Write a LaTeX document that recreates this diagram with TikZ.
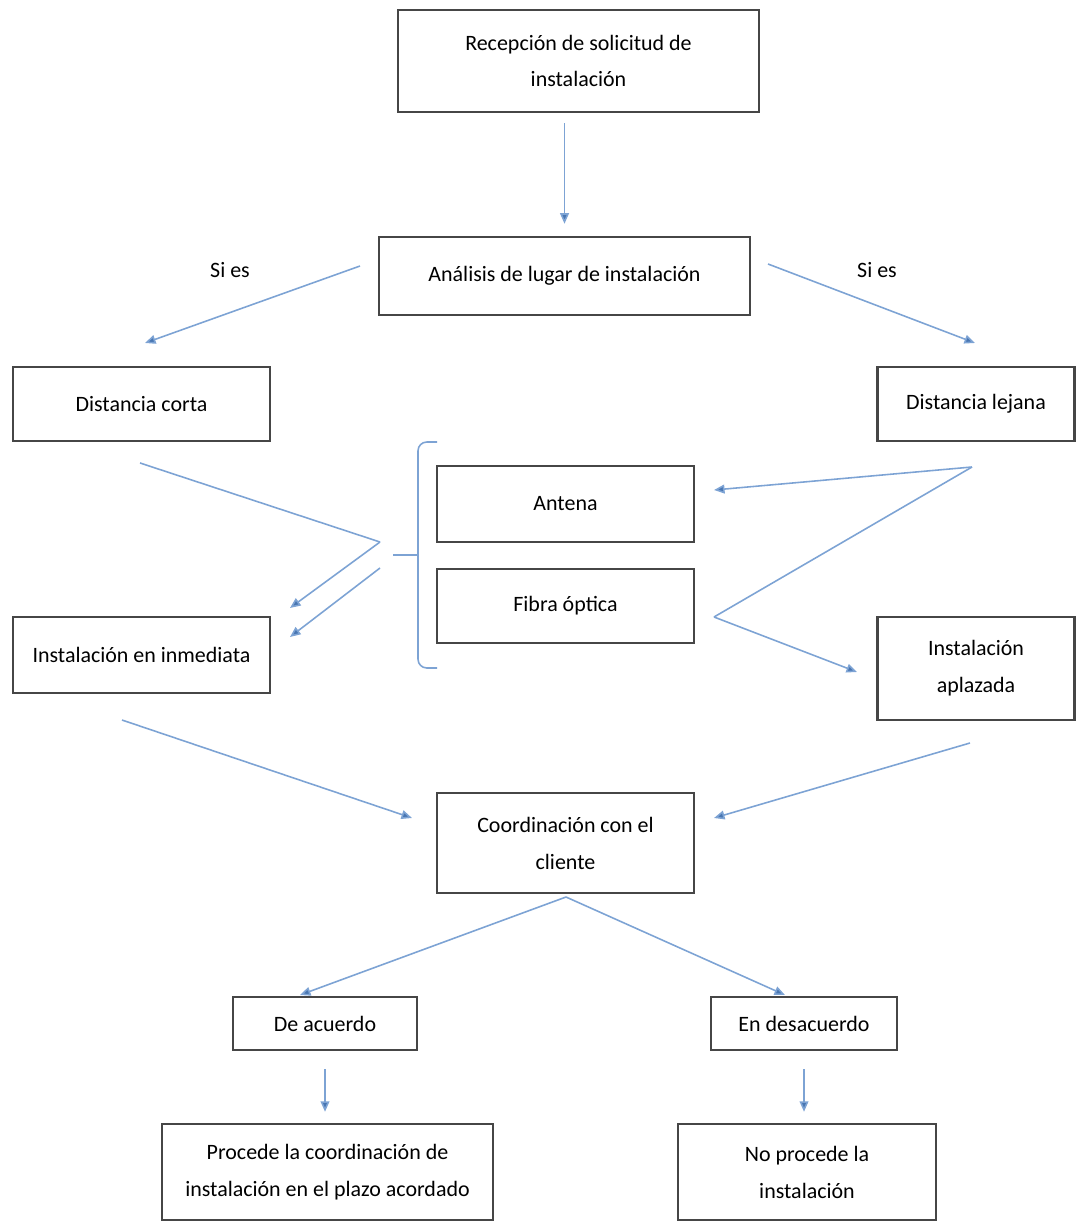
\documentclass[tikz,border=0pt]{standalone}
\usepackage{fontspec}
\setmainfont{Carlito}
\usetikzlibrary{arrows.meta,positioning}
\definecolor{LineBlue}{RGB}{125,163,212}
\definecolor{TipBlue}{RGB}{72,118,178}
\definecolor{BoxGray}{RGB}{70,70,70}

\begin{document}
\begin{tikzpicture}[x=0.02cm, y=-0.02cm,
    caja/.style={draw=BoxGray, line width=1.4pt, align=center, inner sep=0pt,
      font=\fontsize{12.5}{21}\selectfont},
    etiqueta/.style={font=\fontsize{12.5}{21}\selectfont},
    flecha/.style={draw=LineBlue, line width=0.9pt,
      -{Triangle[length=6pt,width=5pt,fill=TipBlue]}},
    linea/.style={draw=LineBlue, line width=0.9pt}]
  \useasboundingbox (0,0) rectangle (1075,1222);
  % cajas
  \node[caja, minimum width=7.22cm, minimum height=2.04cm] (recepcion) at (578.5,61) {Recepción de solicitud de\\instalación};
  \node[caja, minimum width=7.42cm, minimum height=1.56cm] (analisis) at (564.5,276) {Análisis de lugar de instalación};
  \node[caja, minimum width=5.14cm, minimum height=1.48cm] (corta) at (141.5,404) {Distancia corta};
  \node[caja, minimum width=3.94cm, minimum height=1.48cm] (lejana) at (976,404) {Distancia lejana};
  \node[caja, minimum width=5.14cm, minimum height=1.52cm] (antena) at (565.5,504) {Antena};
  \node[caja, minimum width=5.14cm, minimum height=1.48cm] (fibra) at (565.5,606) {Fibra óptica};
  \node[caja, minimum width=5.14cm, minimum height=1.52cm] (inmediata) at (141.5,655) {Instalación en inmediata};
  \node[caja, minimum width=3.94cm, minimum height=2.06cm] (aplazada) at (976,668.5) {Instalación\\aplazada};
  \node[caja, minimum width=5.14cm, minimum height=2.0cm] (coord) at (565.5,843) {Coordinación con el\\cliente};
  \node[caja, minimum width=3.68cm, minimum height=1.06cm] (acuerdo) at (325,1023.5) {De acuerdo};
  \node[caja, minimum width=3.72cm, minimum height=1.06cm] (desacuerdo) at (804,1023.5) {En desacuerdo};
  \node[caja, minimum width=6.62cm, minimum height=1.92cm] (procede) at (327.5,1172) {Procede la coordinación de\\instalación en el plazo acordado};
  \node[caja, minimum width=5.16cm, minimum height=1.92cm] (noprocede) at (807,1172) {No procede la\\instalación};
  \node[etiqueta] (sies1) at (230,270) {Si es};
  \node[etiqueta] (sies2) at (877,270) {Si es};
  % puntos sueltos
  \coordinate (sl1) at (360,266);
  \coordinate (sl2) at (145,343);
  \coordinate (sr1) at (768,264);
  \coordinate (sr2) at (975,343);
  \coordinate (c1) at (140,463);
  \coordinate (c2) at (380,542);
  \coordinate (c3) at (290,608);
  \coordinate (c4) at (380,568);
  \coordinate (c5) at (290,637);
  \coordinate (l1) at (972,467);
  \coordinate (l2) at (714,490);
  \coordinate (l3) at (714,617);
  \coordinate (l4) at (857,672);
  \coordinate (i1) at (122,720);
  \coordinate (i2) at (412,818);
  \coordinate (p1) at (970,743);
  \coordinate (p2) at (714,818);
  \coordinate (k0) at (566,897);
  \coordinate (k1) at (300,995);
  \coordinate (k2) at (785,995);
  % flechas
  \draw[flecha, shorten <=0.2cm, shorten >=0.24cm] (analisis.north |- recepcion.south) -- (analisis.north);
  \draw[flecha] (sl1) -- (sl2);
  \draw[flecha] (sr1) -- (sr2);
  \draw[linea] (c1) -- (c2);
  \draw[flecha] (c2) -- (c3);
  \draw[flecha] (c4) -- (c5);
  \draw[flecha] (l1) -- (l2);
  \draw[linea] (l1) -- (l3);
  \draw[flecha] (l3) -- (l4);
  \draw[flecha] (i1) -- (i2);
  \draw[flecha] (p1) -- (p2);
  \draw[flecha] (k0) -- (k1);
  \draw[flecha] (k0) -- (k2);
  \draw[flecha, shorten <=0.36cm, shorten >=0.22cm] (acuerdo.south) -- (acuerdo.south |- procede.north);
  \draw[flecha, shorten <=0.36cm, shorten >=0.22cm] (desacuerdo.south) -- (desacuerdo.south |- noprocede.north);
  % llave
  \draw[linea, rounded corners=5pt] (437,442) -- (418,442) -- (418,668) -- (437,668);
  \draw[linea] (393,555) -- (418,555);
\end{tikzpicture}
\end{document}
